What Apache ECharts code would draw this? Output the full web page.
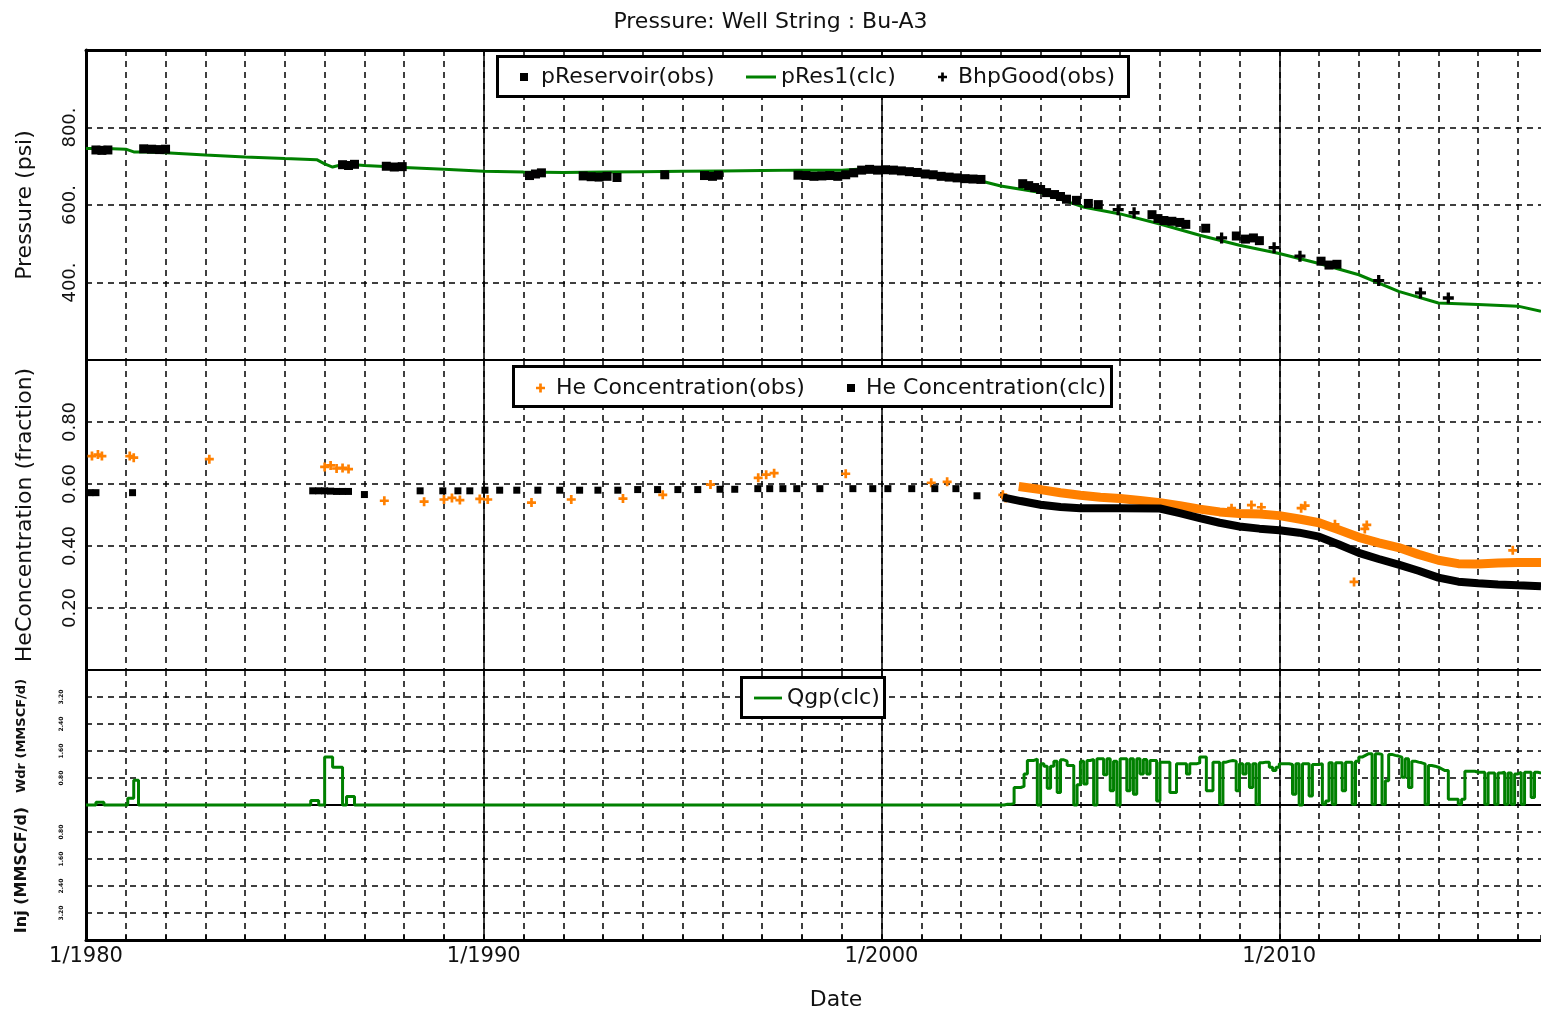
<!DOCTYPE html>
<html>
<head>
<meta charset="UTF-8">
<title>Pressure: Well String : Bu-A3</title>
<script src="https://cdn.jsdelivr.net/npm/echarts@6/dist/echarts.min.js"></script>
<style>
    html, body { margin: 0; padding: 0; background: #fff; }
    #chart { width: 1541px; height: 1009px; }
</style>
</head>
<body>
<div id="chart"></div>
<script>
    // date axis in decimal years
    const X_MIN = 1980;
    const X_MAX = 2016.58;
    const decadeYears = [1980, 1990, 2000, 2010];

    // tick labels
    const pressureTicks = [400, 600, 800];
    const heTicks = [0.2, 0.4, 0.6, 0.8];
    const rateTicks = [0.8, 1.6, 2.4, 3.2];

    // pressure panel
    const pRes1Clc = [
        [1980.0, 746], [1980.5, 746], [1981.0, 744], [1981.2, 737], [1981.5, 737], [1982.0, 735],
        [1983.0, 729], [1984.0, 724], [1985.0, 720], [1985.8, 717], [1986.0, 706], [1986.2, 698],
        [1986.5, 706], [1987.0, 702], [1988.0, 697], [1989.0, 692], [1990.0, 687], [1991.0, 685],
        [1992.0, 684], [1993.0, 685], [1994.0, 686], [1995.0, 687], [1996.0, 688], [1997.0, 689],
        [1998.0, 690], [1999.0, 690], [1999.5, 693], [2000.0, 690], [2000.5, 688], [2001.0, 683],
        [2001.5, 678], [2002.0, 671], [2002.5, 662], [2003.0, 649], [2004.0, 632], [2005.1, 594],
        [2006.0, 577], [2007.0, 551], [2008.0, 522], [2009.0, 496], [2010.0, 475], [2011.0, 449],
        [2012.0, 420], [2013.0, 377], [2014.0, 347], [2015.0, 343], [2016.0, 339], [2016.58, 326]
    ];
    const pReservoirObs = [
        [1980.25, 742], [1980.4, 741], [1980.55, 742],
        [1981.45, 745], [1981.65, 744], [1981.85, 743], [1982.0, 744],
        [1986.45, 704], [1986.6, 702], [1986.75, 705],
        [1987.55, 700], [1987.75, 698], [1987.95, 699],
        [1991.15, 676], [1991.3, 680], [1991.45, 683],
        [1992.5, 675], [1992.7, 673], [1992.9, 672], [1993.1, 674], [1993.35, 671],
        [1994.55, 678],
        [1995.55, 676], [1995.75, 674], [1995.9, 677],
        [1997.9, 677], [1998.1, 676], [1998.3, 674], [1998.5, 675], [1998.7, 676], [1998.9, 674], [1999.1, 678],
        [1999.3, 683], [1999.5, 690], [1999.7, 692], [1999.9, 690], [2000.1, 691], [2000.3, 690],
        [2000.5, 688], [2000.7, 686], [2000.9, 684], [2001.1, 680], [2001.3, 678], [2001.5, 674],
        [2001.7, 672], [2001.9, 670], [2002.1, 668], [2002.3, 667], [2002.5, 666],
        [2003.55, 655], [2003.7, 650], [2003.85, 645], [2004.0, 640], [2004.15, 632], [2004.35, 627],
        [2004.5, 622], [2004.65, 615], [2004.9, 612], [2005.2, 604], [2005.45, 601],
        [2006.8, 575], [2006.95, 565], [2007.1, 560], [2007.3, 558], [2007.5, 555], [2007.65, 550],
        [2008.15, 540], [2008.92, 520], [2009.15, 512], [2009.35, 515], [2009.5, 508],
        [2011.05, 455], [2011.25, 445], [2011.45, 447]
    ];
    const bhpGoodObs = [
        [2005.95, 588], [2006.35, 580], [2008.55, 515], [2009.87, 490],
        [2010.52, 468], [2012.5, 405], [2013.55, 373], [2014.25, 360]
    ];

    // He concentration panel
    const heObsPoints = [
        [1980.15, 0.69], [1980.3, 0.695], [1980.4, 0.69], [1981.1, 0.69], [1981.2, 0.685], [1983.1, 0.68],
        [1986.0, 0.655], [1986.15, 0.66], [1986.3, 0.65], [1986.45, 0.652], [1986.6, 0.648],
        [1987.5, 0.546], [1988.5, 0.543], [1989.0, 0.55], [1989.2, 0.555], [1989.4, 0.548],
        [1989.9, 0.552], [1990.1, 0.55], [1991.2, 0.54], [1992.2, 0.55], [1993.5, 0.553],
        [1994.5, 0.565], [1995.7, 0.598], [1996.9, 0.62], [1997.1, 0.63], [1997.3, 0.635],
        [1999.1, 0.633], [2001.25, 0.604], [2001.65, 0.607],
        [2003.05, 0.565], [2003.12, 0.555],
        [2008.8, 0.522], [2009.3, 0.532], [2009.55, 0.525], [2010.55, 0.522], [2010.65, 0.53],
        [2011.4, 0.47], [2011.88, 0.284], [2012.15, 0.455], [2012.2, 0.468], [2015.87, 0.386]
    ];
    const heObsBand = [
        [2003.45, 0.592], [2004.0, 0.582], [2004.5, 0.572], [2005.0, 0.564], [2005.5, 0.557],
        [2006.0, 0.553], [2006.5, 0.547], [2007.0, 0.54], [2007.5, 0.53], [2008.0, 0.519],
        [2008.5, 0.51], [2009.0, 0.505], [2009.5, 0.503], [2010.0, 0.498], [2010.5, 0.487],
        [2011.0, 0.475], [2011.5, 0.452], [2012.0, 0.428], [2012.5, 0.41], [2013.0, 0.395],
        [2013.5, 0.373], [2014.0, 0.354], [2014.5, 0.343], [2015.0, 0.342], [2015.5, 0.345],
        [2016.0, 0.347], [2016.58, 0.347]
    ];
    const heClcPoints = [
        [1980.1, 0.572], [1980.25, 0.572], [1981.17, 0.572],
        [1985.7, 0.578], [1985.85, 0.578], [1986.0, 0.578], [1986.15, 0.577], [1986.3, 0.576],
        [1986.45, 0.576], [1986.6, 0.576], [1987.0, 0.566],
        [1988.4, 0.578], [1988.97, 0.578], [1989.35, 0.578], [1989.65, 0.578], [1990.03, 0.58],
        [1990.4, 0.58], [1990.83, 0.58], [1991.36, 0.58], [1991.91, 0.58], [1992.41, 0.58],
        [1992.87, 0.58], [1993.37, 0.58], [1993.87, 0.582], [1994.37, 0.582], [1994.88, 0.582],
        [1995.38, 0.582], [1995.94, 0.583], [1996.31, 0.583], [1996.89, 0.585], [1997.19, 0.585],
        [1997.52, 0.585], [1997.87, 0.585], [1998.45, 0.585], [1999.28, 0.585], [1999.78, 0.585],
        [2000.16, 0.585], [2000.76, 0.585], [2001.34, 0.585], [2001.87, 0.585], [2002.4, 0.562]
    ];
    const heClcBand = [
        [2003.05, 0.557], [2003.5, 0.545], [2004.0, 0.533], [2004.5, 0.526], [2005.0, 0.522],
        [2006.0, 0.522], [2007.0, 0.521], [2007.5, 0.506], [2008.0, 0.49], [2008.5, 0.475],
        [2009.0, 0.463], [2009.5, 0.456], [2010.0, 0.451], [2010.5, 0.443], [2011.0, 0.43],
        [2011.5, 0.405], [2012.0, 0.378], [2012.5, 0.358], [2013.0, 0.34], [2013.5, 0.32],
        [2014.0, 0.298], [2014.5, 0.285], [2015.0, 0.28], [2015.5, 0.276], [2016.0, 0.273],
        [2016.58, 0.27]
    ];

    // gas rate panel (withdrawal positive)
    const qgpEarly = [
        [1980.0, 0], [1980.25, 0.08], [1980.45, 0], [1981.05, 0.2], [1981.2, 0.73], [1981.32, 0],
        [1985.65, 0.13], [1985.85, 0], [1986.0, 1.42], [1986.2, 1.12], [1986.45, 0],
        [1986.55, 0.25], [1986.75, 0]
    ];
    const qgpMonthStart = 2003;
    const qgpMonthly = [
        0.00, 0.02, 0.02, 0.05, 0.52, 0.52, 0.55, 0.92, 1.32, 1.32, 1.36, 0.00,
        1.22, 1.15, 0.50, 1.15, 1.30, 0.37, 1.34, 1.30, 1.17, 1.17, 0.00, 0.60,
        1.30, 0.62, 1.32, 1.35, 0.00, 1.37, 1.37, 0.90, 1.37, 0.42, 1.30, 0.00,
        1.37, 1.37, 0.42, 1.37, 0.32, 1.37, 0.92, 1.35, 0.92, 1.32, 1.32, 0.12,
        1.27, 1.27, 1.27, 0.37, 0.37, 1.22, 1.22, 1.22, 0.92, 1.22, 1.22, 1.25,
        1.42, 1.42, 0.42, 0.42, 1.27, 1.27, 0.02, 1.27, 1.30, 1.32, 1.30, 0.42,
        1.22, 0.92, 1.22, 0.52, 1.22, 0.02, 1.25, 1.27, 1.27, 1.12, 1.02, 1.12,
        1.22, 1.22, 1.22, 1.20, 0.32, 1.22, 0.00, 1.22, 1.22, 0.27, 1.20, 1.20,
        1.22, 0.02, 0.12, 1.25, 0.02, 1.25, 1.25, 0.42, 1.27, 1.27, 0.02, 1.30,
        1.42, 1.47, 1.52, 1.52, 0.02, 1.52, 1.50, 0.02, 0.72, 1.50, 1.47, 1.45,
        1.42, 0.82, 1.37, 0.52, 1.30, 1.27, 1.25, 1.22, 0.02, 1.17, 1.15, 1.12,
        1.07, 1.02, 1.02, 0.17, 0.17, 0.17, 0.02, 0.17, 1.00, 1.00, 1.00, 0.97,
        0.97, 0.97, 0.02, 0.95, 0.95, 0.02, 0.95, 0.97, 0.02, 0.95, 0.02, 0.92,
        0.97, 0.02, 0.97, 0.97, 0.22, 0.97, 0.95, 0.97
    ];

    const FONT = '"DejaVu Sans", sans-serif';
    const GREEN = '#008000';
    const ORANGE = '#ff8000';
    const squareIcon = 'path://M0,0H10V10H0Z';
    const plusIcon = 'path://M3.5,0H6.5V3.5H10V6.5H6.5V10H3.5V6.5H0V3.5H3.5Z';
    const lineIcon = 'path://M0,0H30V3H0Z';
    const dashed = { color: '#000', width: 1.5, type: [6, 5] };

    const near = (list, v) => list.some(t => Math.abs(t - v) < 1e-6);

    const qgpData = qgpEarly.concat(qgpMonthly.map((q, i) => [qgpMonthStart + i / 12, q]));

    const chart = echarts.init(document.getElementById('chart'));

    const grids = [
        { left: 86, right: 0, top: 50, height: 310, outerBoundsMode: 'none' },
        { left: 86, right: 0, top: 360, height: 310, outerBoundsMode: 'none' },
        { left: 86, right: 0, top: 670, height: 270, outerBoundsMode: 'none' }
    ];

    const xAxes = [];
    grids.forEach((g, i) => {
        const last = i === 2;
        // yearly dashed grid, bottom edge
        xAxes.push({
            type: 'value', gridIndex: i, min: X_MIN, max: X_MAX, interval: 1, position: 'bottom',
            axisLine: { show: true, onZero: false, lineStyle: { color: '#000', width: last ? 3 : 2 } },
            axisTick: { show: last, inside: true, length: 5, lineStyle: { color: '#000', width: 1.5 } },
            axisLabel: {
                show: last, interval: 0, margin: 6, fontSize: 21, fontFamily: FONT, color: '#111',
                formatter: v => near(decadeYears, v) ? '1/' + Math.round(v) : ''
            },
            splitLine: { show: true, showMaxLine: false, lineStyle: dashed },
            name: last ? 'Date' : '', nameLocation: 'middle', nameGap: 49,
            nameTextStyle: { fontSize: 22, fontFamily: FONT, color: '#111', padding: [0, 0, 0, 45] }
        });
        // decade solid grid, top edge (on zero for the rate panel)
        xAxes.push({
            type: 'value', gridIndex: i, min: X_MIN, max: X_MAX, interval: 10, position: 'top',
            axisLine: { show: true, onZero: last, lineStyle: { color: '#000', width: i === 0 ? 3 : 2 } },
            axisTick: { show: false }, axisLabel: { show: false },
            splitLine: { show: true, showMaxLine: false, lineStyle: { color: '#000', width: 1.5 } }
        });
    });

    const yCommon = {
        axisLine: { show: true, lineStyle: { color: '#000', width: 3 } },
        axisTick: { show: false },
        splitLine: { show: true, lineStyle: dashed },
        nameLocation: 'middle',
        nameTextStyle: { fontSize: 22, fontFamily: FONT, color: '#111' }
    };

    const yAxes = [
        Object.assign({}, yCommon, {
            type: 'value', gridIndex: 0, min: 200, max: 1000, interval: 200,
            name: 'Pressure (psi)', nameGap: 50,
            axisLabel: {
                rotate: 90, margin: 7, fontSize: 18, fontFamily: FONT, color: '#111',
                formatter: v => near(pressureTicks, v) ? v + '.' : ''
            }
        }),
        Object.assign({}, yCommon, {
            type: 'value', gridIndex: 1, min: 0, max: 1, interval: 0.2,
            name: 'HeConcentration (fraction)', nameGap: 50,
            axisLabel: {
                rotate: 90, margin: 7, fontSize: 18, fontFamily: FONT, color: '#111',
                formatter: v => near(heTicks, v) ? v.toFixed(2) : ''
            }
        }),
        Object.assign({}, yCommon, {
            type: 'value', gridIndex: 2, min: -4, max: 4, interval: 0.8,
            axisLabel: {
                rotate: 90, margin: 22, fontSize: 6, fontWeight: 'bold', fontFamily: FONT, color: '#111',
                formatter: v => near(rateTicks, Math.abs(v)) ? Math.abs(v).toFixed(2) : ''
            }
        })
    ];

    // one legend per entry so every icon and label can be placed like the reference
    function legendItem(name, icon, w, h, left, centerY, textPad) {
        return {
            left: left, top: centerY - 11, padding: 0, z: 10,
            itemWidth: w, itemHeight: h, selectedMode: false,
            data: [{ name: name, icon: icon }],
            textStyle: { fontSize: 22, fontFamily: FONT, color: '#111', padding: [0, 0, 0, textPad] }
        };
    }

    function legendBox(x0, y0, x1, y1) {
        return {
            type: 'rect', z: 5, silent: true,
            shape: { x: x0 + 1.5, y: y0 + 1.5, width: x1 - x0 - 3, height: y1 - y0 - 3 },
            style: { fill: '#fff', stroke: '#000', lineWidth: 3 }
        };
    }

    const option = {
        animation: false,
        backgroundColor: '#fff',
        title: {
            text: 'Pressure: Well String : Bu-A3', left: 'center', top: 6,
            textStyle: { fontSize: 22, fontWeight: 'normal', fontFamily: FONT, color: '#111' }
        },
        legend: [
            legendItem('pReservoir(obs)', squareIcon, 8, 8, 520, 77, 8),
            legendItem('pRes1(clc)', lineIcon, 30, 3, 746, 77, 0),
            legendItem('BhpGood(obs)', plusIcon, 9, 9, 938, 77, 6),
            legendItem('He Concentration(obs)', plusIcon, 9, 9, 536, 388, 6),
            legendItem('He Concentration(clc)', squareIcon, 8, 8, 847, 388, 6),
            legendItem('Qgp(clc)', lineIcon, 28, 3, 754, 698, 0)
        ],
        grid: grids,
        xAxis: xAxes,
        yAxis: yAxes,
        graphic: [
            legendBox(496, 55, 1130, 98),
            legendBox(512, 365, 1113, 408),
            legendBox(740, 676, 886, 719),
            {
                type: 'text', x: 22, y: 736, rotation: Math.PI / 2,
                style: { text: 'Wdr (MMSCF/d)', font: 'bold 13px "DejaVu Sans"', fill: '#111', align: 'center', verticalAlign: 'middle' }
            },
            {
                type: 'text', x: 22, y: 870, rotation: Math.PI / 2,
                style: { text: 'Inj (MMSCF/d)', font: 'bold 16px "DejaVu Sans"', fill: '#111', align: 'center', verticalAlign: 'middle' }
            }
        ],
        series: [
            {
                name: 'pRes1(clc)', type: 'line', xAxisIndex: 0, yAxisIndex: 0, data: pRes1Clc,
                symbol: 'none', lineStyle: { color: GREEN, width: 3 }, itemStyle: { color: GREEN }, z: 2
            },
            {
                name: 'pReservoir(obs)', type: 'scatter', xAxisIndex: 0, yAxisIndex: 0, data: pReservoirObs,
                symbol: 'rect', symbolSize: 9, itemStyle: { color: '#000', opacity: 1 }, z: 3
            },
            {
                name: 'BhpGood(obs)', type: 'scatter', xAxisIndex: 0, yAxisIndex: 0, data: bhpGoodObs,
                symbol: plusIcon, symbolSize: 11, itemStyle: { color: '#000', opacity: 1 }, z: 3
            },
            {
                name: 'He Concentration(obs)', type: 'scatter', xAxisIndex: 2, yAxisIndex: 1, data: heObsPoints,
                symbol: plusIcon, symbolSize: 9, itemStyle: { color: ORANGE, opacity: 1 }, z: 3
            },
            {
                name: 'He Concentration(obs)', type: 'line', xAxisIndex: 2, yAxisIndex: 1, data: heObsBand,
                symbol: 'none', lineStyle: { color: ORANGE, width: 9 }, itemStyle: { color: ORANGE }, z: 3
            },
            {
                name: 'He Concentration(clc)', type: 'scatter', xAxisIndex: 2, yAxisIndex: 1, data: heClcPoints,
                symbol: 'rect', symbolSize: 7, itemStyle: { color: '#000', opacity: 1 }, z: 4
            },
            {
                name: 'He Concentration(clc)', type: 'line', xAxisIndex: 2, yAxisIndex: 1, data: heClcBand,
                symbol: 'none', lineStyle: { color: '#000', width: 8 }, itemStyle: { color: '#000' }, z: 4
            },
            {
                name: 'Qgp(clc)', type: 'line', xAxisIndex: 4, yAxisIndex: 2, data: qgpData, step: 'end',
                symbol: 'none', lineStyle: { color: GREEN, width: 3 }, itemStyle: { color: GREEN }, z: 3
            }
        ]
    };

    chart.setOption(option);
</script>
</body>
</html>
